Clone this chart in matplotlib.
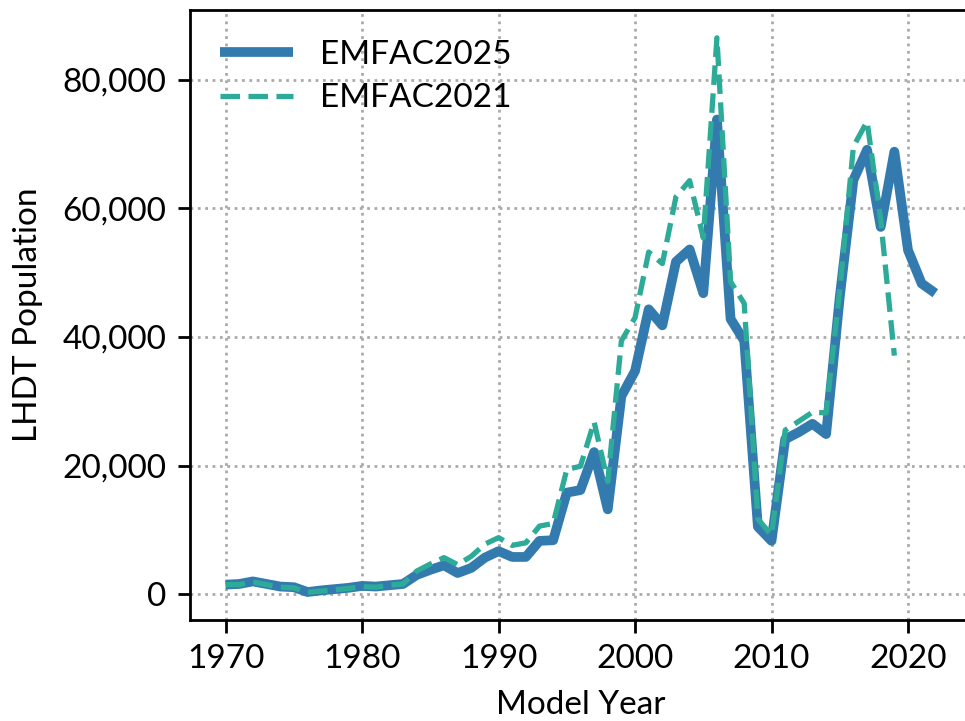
import matplotlib
matplotlib.use('Agg')
import matplotlib.pyplot as plt
from matplotlib.ticker import FuncFormatter

# LHDT population by model year
years_2025 = list(range(1970, 2023))
pop_2025 = [1500, 1600, 2000, 1600, 1200, 1100, 350, 600, 800, 1000,
            1300, 1200, 1400, 1600, 3000, 3800, 4500, 3300, 4100, 5700,
            6700, 5800, 5800, 8300, 8400, 15800, 16200, 22100, 13200, 30800,
            34700, 44300, 41800, 51700, 53600, 46800, 73800, 42800, 39400, 10500,
            8300, 24100, 25200, 26500, 24900, 46200, 64400, 69100, 57100, 68800,
            53500, 48300, 46800]

years_2021 = list(range(1970, 2020))
pop_2021 = [1500, 1500, 1900, 1500, 1100, 1000, 300, 500, 700, 900,
            1200, 1100, 1400, 1600, 3600, 4700, 5700, 4600, 5900, 7800,
            8800, 7600, 8000, 10600, 11000, 19400, 19900, 26800, 17500, 39400,
            43000, 53200, 51400, 61800, 64300, 55400, 86500, 48600, 45200, 11700,
            9200, 25500, 26900, 28300, 28200, 47300, 69600, 73500, 58200, 37100]

plt.rcParams['font.family'] = ['Lato', 'DejaVu Sans']
plt.rcParams['font.size'] = 24

fig = plt.figure(figsize=(9.65, 7.21), dpi=100)
ax = fig.add_axes([0.197, 0.140, 0.809, 0.846])

ax.plot(years_2025, pop_2025, color='#337bae', lw=7, label='EMFAC2025',
        solid_joinstyle='round', solid_capstyle='butt')
ax.plot(years_2021, pop_2021, color='#2dab98', lw=3.8, ls='--', label='EMFAC2021')

ax.set_xlim(1967.4, 2024.6)
ax.set_xticks([1970, 1980, 1990, 2000, 2010, 2020])
ax.set_yticks([0, 20000, 40000, 60000, 80000])
ax.yaxis.set_major_formatter(FuncFormatter(lambda v, p: f'{int(v):,}'))

ax.grid(True, ls=':', color='#aaaaaa', lw=2)
ax.set_axisbelow(True)
for s in ax.spines.values():
    s.set_linewidth(2)
ax.tick_params(direction='out', length=9, width=2, pad=8)

ax.set_xlabel('Model Year', labelpad=12)
ax.set_ylabel('LHDT Population', labelpad=14)

ax.legend(loc='upper left', frameon=False, handlelength=2.2,
          borderaxespad=0.5, labelspacing=0.4, handletextpad=0.8)

fig.savefig('out.png', dpi=100)
